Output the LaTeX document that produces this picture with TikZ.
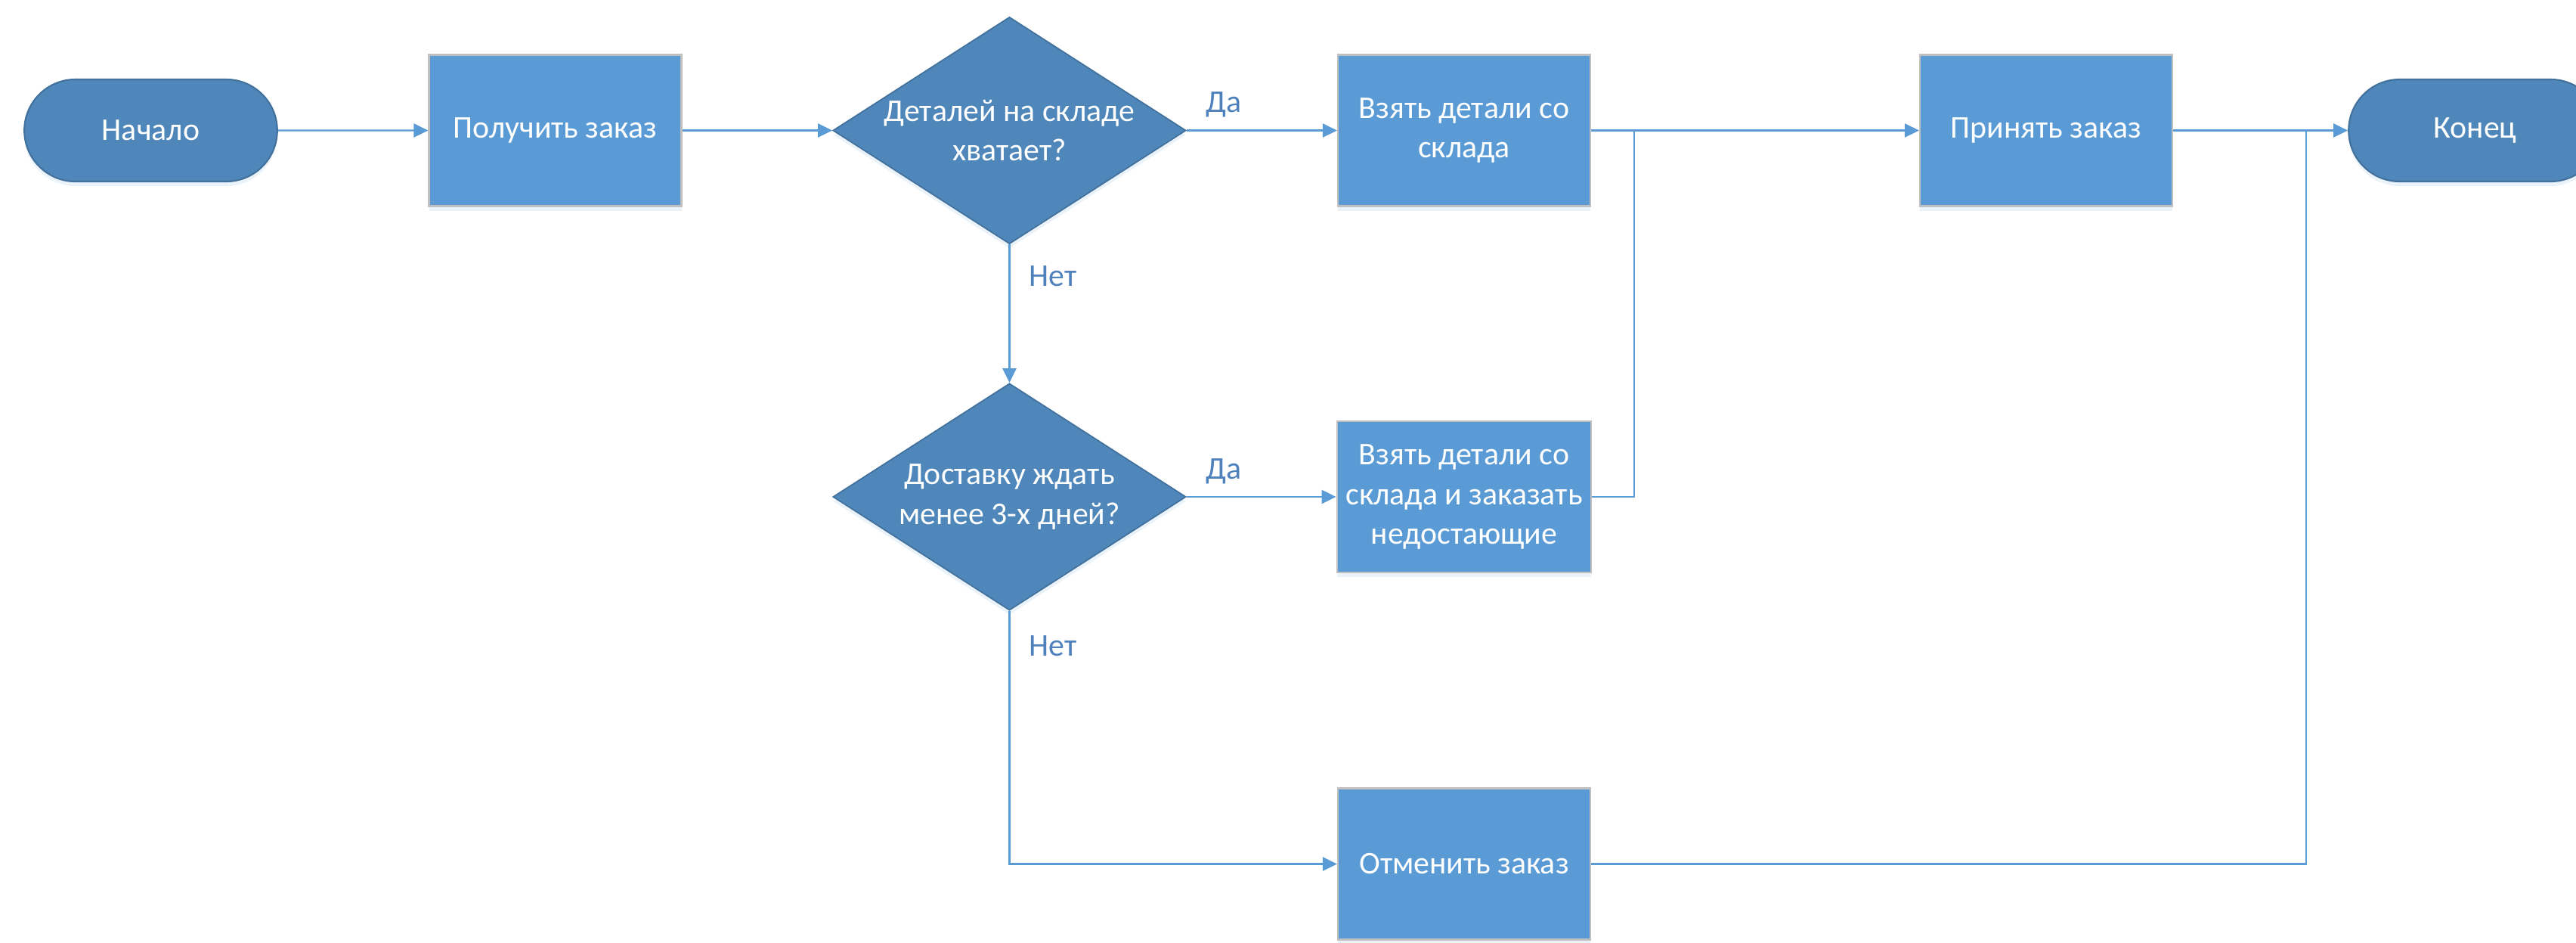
\documentclass[tikz,border=0pt]{standalone}
\usepackage{fontspec}
\setmainfont{Carlito}
\usetikzlibrary{arrows.meta, positioning, shapes.geometric, shapes.misc, shadows}
\definecolor{boxBlue}{HTML}{5B9BD5}
\definecolor{darkBlue}{HTML}{4F87BA}
\definecolor{edgeBlue}{HTML}{41719C}
\definecolor{labelBlue}{HTML}{4F81BD}
\definecolor{boxGray}{HTML}{C0C0C0}

\begin{document}
\begin{tikzpicture}[>={Triangle[length=0.19cm, width=0.18cm]},
    every node/.style={font=\fontsize{11.9pt}{14.8pt}\selectfont},
    soft/.style={drop shadow={shadow xshift=0pt, shadow yshift=-0.06cm, opacity=0.12, fill=boxBlue}},
    process/.style={rectangle, fill=boxBlue, draw=boxGray, line width=0.6pt, text=white,
        minimum width=3.34cm, minimum height=2cm, align=center, soft},
    decision/.style={diamond, fill=darkBlue, draw=edgeBlue, line width=0.5pt, text=white,
        inner sep=0pt, aspect=1.55, minimum width=4.67cm, minimum height=3cm, align=center, soft},
    terminal/.style={rounded rectangle, fill=darkBlue, draw=edgeBlue, line width=0.6pt, text=white,
        minimum width=3.58cm, minimum height=1.35cm, soft},
    link/.style={->, boxBlue, line width=0.7pt},
    answer/.style={text=labelBlue, inner sep=0pt}]
    \useasboundingbox (0,0) rectangle (34.08,-12.46);

    % first row
    \node[terminal] (start) at (1.995,-1.725) {Начало};
    \node[process] (get) at (7.345,-1.725) {Получить заказ};
    \node[decision] (check) at (13.355,-1.725) {Деталей на складе\\хватает?};
    \node[process] (take) at (19.37,-1.725) {Взять детали со\\склада};
    \node[process] (accept) at (27.07,-1.725) {Принять заказ};
    \node[terminal] (finish) at (32.745,-1.725) {Конец};

    % second and third rows
    \node[decision] (wait) at (13.355,-6.57) {Доставку ждать\\менее 3-х дней?};
    \node[process] (order) at (19.37,-6.57) {Взять детали со\\склада и заказать\\недостающие};
    \node[process] (cancel) at (19.37,-11.425) {Отменить заказ};

    \coordinate (join) at (21.62,-1.725);
    \coordinate (joinEnd) at (30.51,-1.725);

    \draw[link] (start) -- (get);
    \draw[link] (get) -- (check);
    \draw[link] (check.east) -- (take.west)
        node[answer, pos=0, anchor=base west, xshift=0.24cm, yshift=0.24cm] {Да};
    \draw[link] (check.south) -- (wait.north)
        node[answer, pos=0, anchor=base west, xshift=0.25cm, yshift=-0.55cm] {Нет};
    \draw[link] (wait.east) -- (order.west)
        node[answer, pos=0, anchor=base west, xshift=0.24cm, yshift=0.24cm] {Да};
    \draw[link] (wait.south) |- (cancel.west)
        node[answer, pos=0, anchor=base west, xshift=0.25cm, yshift=-0.6cm] {Нет};
    \draw[link] (take) -- (accept);
    \draw[link] (accept) -- (finish);
    \draw[boxBlue, line width=0.7pt] (order.east) -| (join);
    \draw[boxBlue, line width=0.7pt] (cancel.east) -| (joinEnd);
\end{tikzpicture}
\end{document}
